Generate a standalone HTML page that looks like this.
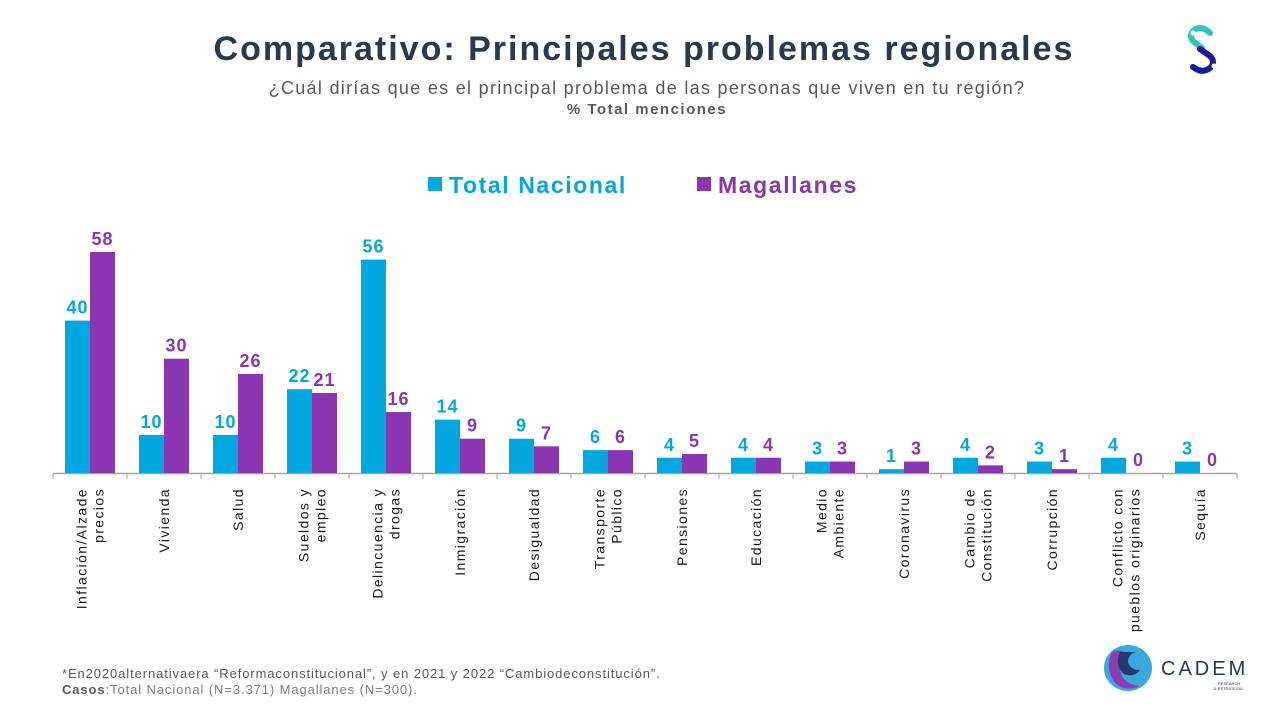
<!DOCTYPE html>
<html><head><meta charset="utf-8"><style>
body{margin:0;width:1274px;height:715px;background:#fff;font-family:"Liberation Sans",sans-serif;overflow:hidden;position:relative}
.t{position:absolute;white-space:nowrap}
</style></head><body>
<div class="t" style="left:0;width:1288px;text-align:center;top:30px;font-size:34px;letter-spacing:2px;font-weight:bold;color:#263a52">Comparativo: Principales problemas regionales</div>
<div class="t" style="left:0;width:1294px;text-align:center;top:78px;font-size:18px;letter-spacing:1.3px;color:#595959">¿Cuál dirías que es el principal problema de las personas que viven en tu región?</div>
<div class="t" style="left:0;width:1294px;text-align:center;top:101px;font-size:15px;letter-spacing:1.5px;font-weight:bold;color:#595959">% Total menciones</div>
<svg style="position:absolute;left:1180px;top:20px" width="50" height="60" viewBox="0 0 50 60">
<path d="M30 13 Q22 5 14 10 Q8 16 14 22 L22 28" fill="none" stroke="#2ec4b6" stroke-width="6" stroke-linecap="round"/>
<circle cx="13" cy="13" r="2.5" fill="#fff"/>
<path d="M20 29 L30 36 Q36 42 30 48 Q22 54 13 47" fill="none" stroke="#1a1aa0" stroke-width="6" stroke-linecap="round"/>
<circle cx="34" cy="46" r="2.5" fill="#fff"/>
</svg>
<svg id="chart" style="position:absolute;left:0;top:0" width="1274" height="715"></svg>
<div class="t" style="left:62px;top:666px;font-size:13px;letter-spacing:0.9px;color:#595959">*En2020alternativaera “Reformaconstitucional”, y en 2021 y 2022 “Cambiodeconstitución”.</div>
<div class="t" style="left:62px;top:682px;font-size:13px;letter-spacing:0.9px;color:#7f7f7f"><b style="color:#595959">Casos</b>:Total Nacional (N=3.371) Magallanes (N=300).</div>
<svg style="position:absolute;left:1100px;top:640px" width="160" height="60" viewBox="0 0 160 60">
<ellipse cx="28" cy="28" rx="24" ry="23" fill="#3aa7dd"/>
<path d="M12 12 Q4 30 16 44 Q28 52 40 46 Q22 44 20 30 Q20 20 30 16 Q22 8 12 12Z" fill="#8e3ab0"/>
<path d="M20 12 Q14 26 24 34 Q34 38 40 30 Q30 30 28 22 Q28 14 36 12Z" fill="#243a6e"/>
<text x="61" y="35" font-family="Liberation Sans,sans-serif" font-size="20" fill="#263a52" letter-spacing="3">CADEM</text>
<text x="118" y="45" font-family="Liberation Sans,sans-serif" font-size="4" fill="#263a52">RESEARCH</text>
<text x="114" y="50" font-family="Liberation Sans,sans-serif" font-size="4" fill="#263a52">&amp; ESTRATEGIA</text>
</svg>
<script>
const categories=[["Inflación/Alzade","precios"],["Vivienda"],["Salud"],["Sueldos y","empleo"],["Delincuencia y","drogas"],["Inmigración"],["Desigualdad"],["Transporte","Público"],["Pensiones"],["Educación"],["Medio","Ambiente"],["Coronavirus"],["Cambio de","Constitución"],["Corrupción"],["Conflicto con","pueblos originarios"],["Sequía"]];
const nacional=[40,10,10,22,56,14,9,6,4,4,3,1,4,3,4,3];
const magallanes=[58,30,26,21,16,9,7,6,5,4,3,3,2,1,0,0];
const seriesNames=["Total Nacional","Magallanes"];
const colors=["#00a8e0","#8a36b0"];
const svg=document.getElementById('chart');const NS="http://www.w3.org/2000/svg";
const x0=53,gw=74,baseY=473,k=221/58,bw=25;
function xc(i){return x0+gw*i+gw/2;}
function y(v){return baseY-v*k;}
function mk(t,a){const e=document.createElementNS(NS,t);for(const n in a)e.setAttribute(n,a[n]);svg.appendChild(e);return e;}
const ax=mk('line',{x1:x0,x2:x0+gw*categories.length,y1:baseY+0.5,y2:baseY+0.5,stroke:'#a6a6a6','stroke-width':1.5});


for(let i=0;i<=categories.length;i++){const t=mk('line',{x1:x0+gw*i,x2:x0+gw*i,y1:baseY,y2:baseY+6,stroke:'#a6a6a6'});

}
[nacional,magallanes].forEach((arr,s)=>{arr.forEach((v,i)=>{
const bx=xc(i)-bw+s*bw;
const r=mk('rect',{x:bx,y:y(v),width:bw,height:v*k,fill:colors[s]});


const t=mk('text',{x:bx+bw/2,y:y(v)-7,'text-anchor':'middle','font-size':18,'letter-spacing':1,'font-weight':'bold',fill:colors[s]});t.textContent=v;


});});
categories.forEach((lines,i)=>{const n=lines.length;lines.forEach((l,j)=>{
const cx=xc(i)+(j-(n-1)/2)*17+5;
const t=mk('text',{x:0,y:0,transform:`translate(${cx},488) rotate(-90)`,'text-anchor':'end','font-size':14,'letter-spacing':1.4,fill:'#1a1a1a'});t.textContent=l;


});});
const lx=[428,697];
seriesNames.forEach((nm,s)=>{const r=mk('rect',{x:lx[s],y:177,width:14,height:14,fill:colors[s]});


const t=mk('text',{x:lx[s]+21,y:193,'font-size':23,'letter-spacing':1.6,'font-weight':'bold',fill:colors[s]});t.textContent=nm;

});
</script>
</body></html>
